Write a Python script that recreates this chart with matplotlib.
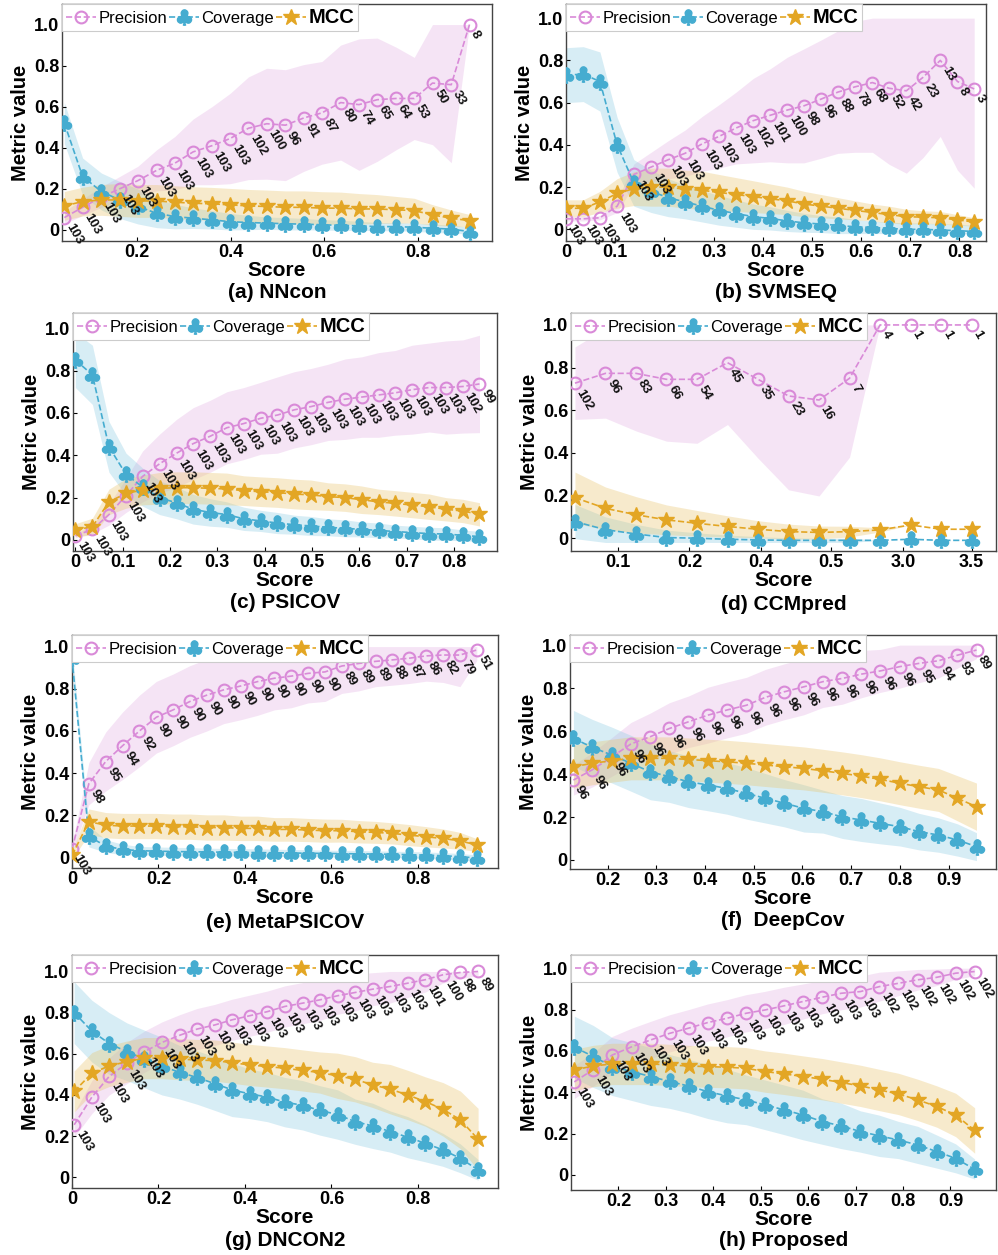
import matplotlib
matplotlib.use('Agg')
import matplotlib.pyplot as plt
import numpy as np

plt.rcParams['font.family'] = ['Liberation Sans', 'DejaVu Sans']
plt.rcParams['mathtext.fontset'] = 'dejavusans'
plt.rcParams['font.weight'] = 'bold'

# ---------------- data ----------------
# (a) NNcon
nncon_x = [0.045, 0.084, 0.124, 0.163, 0.202, 0.242, 0.281, 0.320, 0.360, 0.399, 0.438, 0.477,
           0.517, 0.556, 0.595, 0.635, 0.674, 0.713, 0.753, 0.792, 0.831, 0.871, 0.910]
nncon_prec = [0.06, 0.11, 0.16, 0.20, 0.24, 0.29, 0.325, 0.38, 0.41, 0.445, 0.495, 0.517, 0.51,
              0.545, 0.57, 0.62, 0.61, 0.634, 0.64, 0.64, 0.715, 0.707, 1.0]
nncon_prec_sd = [0.03, 0.04, 0.05, 0.06, 0.07, 0.10, 0.13, 0.16, 0.19, 0.22, 0.25, 0.27, 0.27,
                 0.26, 0.25, 0.28, 0.32, 0.30, 0.25, 0.20, 0.30, 0.38, 0.0]
nncon_cov = [0.52, 0.26, 0.187, 0.146, 0.114, 0.081, 0.065, 0.057, 0.049, 0.04, 0.036, 0.033, 0.03,
             0.028, 0.025, 0.022, 0.02, 0.016, 0.016, 0.013, 0.008, 0.004, -0.008]
nncon_cov_sd = [0.1, 0.09, 0.09, 0.09, 0.085, 0.07, 0.06, 0.05, 0.045, 0.04, 0.035, 0.03, 0.03,
                0.028, 0.025, 0.025, 0.022, 0.02, 0.02, 0.02, 0.02, 0.02, 0.02]
nncon_mcc = [0.117, 0.138, 0.146, 0.146, 0.141, 0.141, 0.135, 0.13, 0.127, 0.122, 0.117, 0.114,
             0.11, 0.11, 0.106, 0.106, 0.102, 0.102, 0.098, 0.094, 0.073, 0.057, 0.045]
nncon_mcc_sd = [0.07, 0.07, 0.075, 0.08, 0.08, 0.08, 0.08, 0.08, 0.08, 0.08, 0.08, 0.08, 0.08,
                0.08, 0.08, 0.078, 0.075, 0.07, 0.065, 0.06, 0.05, 0.04, 0.03]
nncon_n = [103] * 10 + [102, 100, 96, 91, 87, 80, 74, 65, 64, 53, 50, 33, 8]

# (b) SVMSEQ
svmseq_x = [0, 0.035, 0.069, 0.104, 0.138, 0.173, 0.208, 0.242, 0.277, 0.311, 0.346, 0.381, 0.415,
            0.450, 0.484, 0.519, 0.553, 0.588, 0.623, 0.657, 0.692, 0.726, 0.761, 0.796, 0.830]
svmseq_prec = [0.05, 0.05, 0.055, 0.11, 0.26, 0.295, 0.33, 0.36, 0.405, 0.44, 0.48, 0.515, 0.54,
               0.565, 0.585, 0.617, 0.65, 0.675, 0.695, 0.668, 0.656, 0.72, 0.80, 0.70, 0.665]
svmseq_prec_sd = [0.01, 0.01, 0.01, 0.03, 0.05, 0.07, 0.09, 0.11, 0.13, 0.15, 0.17, 0.2, 0.22,
                  0.25, 0.27, 0.28, 0.29, 0.31, 0.33, 0.36, 0.39, 0.38, 0.36, 0.42, 0.47]
svmseq_cov = [0.73, 0.735, 0.70, 0.40, 0.22, 0.18, 0.15, 0.13, 0.11, 0.09, 0.075, 0.06, 0.052,
              0.04, 0.031, 0.025, 0.019, 0.012, 0.009, 0.005, 0.0, 0.0, -0.003, -0.006, -0.01]
svmseq_cov_sd = [0.13, 0.13, 0.14, 0.13, 0.11, 0.1, 0.09, 0.08, 0.075, 0.07, 0.065, 0.06, 0.055,
                 0.05, 0.045, 0.04, 0.04, 0.035, 0.03, 0.03, 0.03, 0.03, 0.03, 0.03, 0.03]
svmseq_mcc = [0.10, 0.10, 0.13, 0.17, 0.193, 0.2, 0.2, 0.19, 0.185, 0.175, 0.165, 0.155, 0.145,
              0.135, 0.12, 0.11, 0.1, 0.09, 0.08, 0.07, 0.06, 0.058, 0.055, 0.045, 0.035]
svmseq_mcc_sd = [0.04, 0.04, 0.05, 0.07, 0.08, 0.09, 0.09, 0.09, 0.09, 0.085, 0.08, 0.075, 0.07,
                 0.065, 0.06, 0.055, 0.05, 0.045, 0.04, 0.04, 0.035, 0.03, 0.03, 0.025, 0.02]
svmseq_n = [103] * 11 + [102, 101, 100, 98, 96, 88, 78, 68, 52, 42, 23, 13, 8, 3]

# (c) PSICOV
psicov_x = [0, 0.036, 0.071, 0.107, 0.142, 0.178, 0.214, 0.249, 0.285, 0.320, 0.356, 0.392, 0.427,
            0.463, 0.498, 0.534, 0.570, 0.605, 0.641, 0.676, 0.712, 0.748, 0.783, 0.819, 0.854]
psicov_prec = [0.02, 0.05, 0.12, 0.21, 0.30, 0.36, 0.41, 0.455, 0.49, 0.53, 0.55, 0.575, 0.59,
               0.615, 0.63, 0.65, 0.665, 0.675, 0.685, 0.695, 0.71, 0.72, 0.72, 0.725, 0.737]
psicov_prec_sd = [0.01, 0.02, 0.05, 0.08, 0.12, 0.14, 0.16, 0.17, 0.17, 0.17, 0.17, 0.17, 0.18,
                  0.18, 0.18, 0.18, 0.19, 0.19, 0.2, 0.2, 0.21, 0.21, 0.22, 0.22, 0.23]
psicov_cov = [0.85, 0.78, 0.44, 0.31, 0.25, 0.20, 0.175, 0.145, 0.13, 0.12, 0.10, 0.09, 0.08,
              0.072, 0.066, 0.06, 0.055, 0.05, 0.045, 0.04, 0.035, 0.03, 0.028, 0.022, 0.016]
psicov_cov_sd = [0.13, 0.14, 0.12, 0.1, 0.09, 0.08, 0.075, 0.07, 0.065, 0.06, 0.055, 0.05, 0.05,
                 0.045, 0.045, 0.04, 0.04, 0.035, 0.035, 0.03, 0.03, 0.03, 0.03, 0.025, 0.025]
psicov_mcc = [0.047, 0.063, 0.18, 0.22, 0.236, 0.244, 0.247, 0.247, 0.244, 0.241, 0.233, 0.228,
              0.224, 0.217, 0.213, 0.205, 0.2, 0.19, 0.18, 0.173, 0.165, 0.157, 0.145, 0.137, 0.121]
psicov_mcc_sd = [0.03, 0.04, 0.06, 0.07, 0.07, 0.075, 0.075, 0.075, 0.075, 0.075, 0.07, 0.07, 0.07,
                 0.07, 0.07, 0.065, 0.065, 0.065, 0.06, 0.06, 0.06, 0.06, 0.055, 0.055, 0.055]
psicov_n = [103] * 23 + [102, 99]

# (d) CCMpred (score bins drawn at equal spacing)
ccm_x = [0, 1, 2, 3, 4, 5, 6, 7, 8, 9, 10, 11, 12, 13]
ccm_ticks = [1.4, 3.75, 6.1, 8.4, 10.75, 13.0]
ccm_ticklabels = ['0.1', '0.2', '0.4', '0.5', '3.0', '3.5']
ccm_prec = [0.727, 0.773, 0.773, 0.745, 0.745, 0.823, 0.745, 0.667, 0.648, 0.75, 1.0, 1.0, 1.0, 1.0]
ccm_prec_sd = [0.17, 0.21, 0.27, 0.29, 0.30, 0.29, 0.37, 0.44, 0.45, 0.37, 0, 0, 0, 0]
ccm_cov = [0.078, 0.04, 0.02, 0.003, 0.0, -0.005, -0.008, -0.01, -0.01, -0.01, -0.01, -0.005,
           -0.01, -0.01]
ccm_cov_sd = [0.08, 0.06, 0.045, 0.035, 0.025, 0.02, 0.015, 0.012, 0.01, 0.01, 0, 0, 0, 0]
ccm_mcc = [0.19, 0.14, 0.11, 0.086, 0.07, 0.055, 0.042, 0.031, 0.027, 0.031, 0.039, 0.062, 0.042,
           0.042]
ccm_mcc_sd = [0.12, 0.1, 0.085, 0.07, 0.06, 0.05, 0.04, 0.035, 0.03, 0.025, 0.01, 0, 0, 0]
ccm_n = [102, 96, 83, 66, 54, 45, 35, 23, 16, 7, 4, 1, 1, 1]

# (e) MetaPSICOV
meta_x = [0, 0.039, 0.078, 0.117, 0.156, 0.195, 0.234, 0.273, 0.312, 0.351, 0.390, 0.429, 0.468,
          0.507, 0.546, 0.585, 0.624, 0.663, 0.702, 0.741, 0.780, 0.819, 0.858, 0.897, 0.936]
meta_prec = [0.04, 0.35, 0.455, 0.53, 0.6, 0.665, 0.7, 0.74, 0.77, 0.795, 0.813, 0.834, 0.85,
             0.86, 0.873, 0.88, 0.908, 0.92, 0.93, 0.937, 0.945, 0.956, 0.96, 0.96, 0.984]
meta_prec_sd = [0.02, 0.1, 0.14, 0.16, 0.17, 0.17, 0.17, 0.17, 0.17, 0.16, 0.16, 0.16, 0.15, 0.15,
                0.14, 0.14, 0.13, 0.13, 0.12, 0.12, 0.12, 0.12, 0.13, 0.15, 0.05]
meta_cov = [0.945, 0.10, 0.054, 0.038, 0.032, 0.03, 0.028, 0.027, 0.026, 0.025, 0.024, 0.023,
            0.022, 0.021, 0.02, 0.019, 0.018, 0.017, 0.016, 0.015, 0.013, 0.011, 0.008, 0.004,
            -0.003]
meta_cov_sd = [0.05, 0.05, 0.03, 0.025, 0.02, 0.02, 0.02, 0.02, 0.018, 0.018, 0.018, 0.018, 0.017,
               0.017, 0.017, 0.016, 0.016, 0.016, 0.015, 0.015, 0.015, 0.015, 0.015, 0.015, 0.015]
meta_mcc = [0.01, 0.17, 0.153, 0.149, 0.149, 0.149, 0.146, 0.146, 0.142, 0.142, 0.138, 0.138,
            0.133, 0.133, 0.13, 0.127, 0.127, 0.122, 0.119, 0.114, 0.106, 0.098, 0.09, 0.079, 0.059]
meta_mcc_sd = [0.02, 0.06, 0.06, 0.06, 0.06, 0.06, 0.06, 0.06, 0.06, 0.06, 0.058, 0.058, 0.056,
               0.056, 0.055, 0.055, 0.054, 0.053, 0.052, 0.05, 0.05, 0.048, 0.045, 0.04, 0.03]
meta_n = [103, 98, 95, 94, 92] + [90] * 11 + [89, 89, 89, 88, 87, 86, 82, 79, 51]

# (f) DeepCov
deepcov_x = [0.130, 0.169, 0.209, 0.248, 0.288, 0.327, 0.366, 0.406, 0.445, 0.485, 0.524, 0.563,
             0.603, 0.642, 0.682, 0.721, 0.760, 0.800, 0.839, 0.879, 0.918, 0.957]
deepcov_prec = [0.372, 0.42, 0.48, 0.54, 0.574, 0.612, 0.643, 0.674, 0.698, 0.72, 0.757, 0.783,
                0.806, 0.83, 0.845, 0.865, 0.88, 0.9, 0.915, 0.927, 0.953, 0.977]
deepcov_prec_sd = [0.07, 0.08, 0.09, 0.1, 0.11, 0.12, 0.12, 0.13, 0.13, 0.13, 0.13, 0.13, 0.13,
                   0.12, 0.12, 0.11, 0.1, 0.1, 0.09, 0.08, 0.06, 0.04]
deepcov_cov = [0.566, 0.524, 0.488, 0.45, 0.41, 0.388, 0.364, 0.349, 0.333, 0.31, 0.287, 0.264,
               0.24, 0.225, 0.2, 0.186, 0.17, 0.155, 0.132, 0.116, 0.093, 0.062]
deepcov_cov_sd = [0.13, 0.13, 0.13, 0.13, 0.13, 0.12, 0.12, 0.12, 0.12, 0.12, 0.115, 0.11, 0.11,
                  0.1, 0.1, 0.1, 0.095, 0.09, 0.085, 0.08, 0.075, 0.065]
deepcov_mcc = [0.434, 0.45, 0.462, 0.473, 0.473, 0.473, 0.468, 0.462, 0.457, 0.45, 0.442, 0.434,
               0.426, 0.415, 0.403, 0.39, 0.375, 0.357, 0.341, 0.326, 0.287, 0.248]
deepcov_mcc_sd = [0.1] * 20 + [0.105, 0.11]
deepcov_n = [96] * 18 + [95, 94, 93, 89]

# (g) DNCON2
dncon_x = [0.005, 0.046, 0.086, 0.127, 0.167, 0.208, 0.249, 0.289, 0.330, 0.370, 0.411, 0.452,
           0.492, 0.533, 0.573, 0.614, 0.655, 0.695, 0.736, 0.776, 0.817, 0.858, 0.898, 0.939]
dncon_prec = [0.255, 0.39, 0.49, 0.555, 0.61, 0.655, 0.69, 0.72, 0.74, 0.765, 0.785, 0.805, 0.83,
              0.846, 0.862, 0.882, 0.898, 0.914, 0.927, 0.943, 0.96, 0.984, 0.995, 1.0]
dncon_prec_sd = [0.06, 0.08, 0.09, 0.1, 0.1, 0.1, 0.1, 0.1, 0.1, 0.1, 0.1, 0.1, 0.1, 0.1, 0.1,
                 0.09, 0.09, 0.08, 0.08, 0.07, 0.06, 0.04, 0.03, 0.02]
dncon_cov = [0.80, 0.71, 0.65, 0.61, 0.575, 0.54, 0.51, 0.485, 0.455, 0.425, 0.405, 0.39, 0.365,
             0.35, 0.325, 0.305, 0.27, 0.25, 0.222, 0.195, 0.165, 0.133, 0.092, 0.036]
dncon_cov_sd = [0.15, 0.15, 0.15, 0.14, 0.14, 0.14, 0.13, 0.13, 0.13, 0.13, 0.12, 0.12, 0.12,
                0.12, 0.12, 0.12, 0.11, 0.11, 0.1, 0.1, 0.09, 0.08, 0.07, 0.05]
dncon_mcc = [0.417, 0.506, 0.541, 0.562, 0.579, 0.579, 0.574, 0.57, 0.567, 0.557, 0.546, 0.538,
             0.53, 0.519, 0.509, 0.493, 0.476, 0.449, 0.428, 0.4, 0.368, 0.33, 0.279, 0.185]
dncon_mcc_sd = [0.1] * 15 + [0.11, 0.11, 0.11, 0.12, 0.12, 0.12, 0.13, 0.14, 0.15]
dncon_n = [103] * 20 + [101, 100, 98, 89]

# (h) Proposed
prop_x = [0.107, 0.147, 0.187, 0.228, 0.268, 0.308, 0.348, 0.388, 0.429, 0.469, 0.509, 0.549,
          0.589, 0.630, 0.670, 0.710, 0.750, 0.790, 0.831, 0.871, 0.911, 0.951]
prop_prec = [0.45, 0.51, 0.58, 0.62, 0.653, 0.685, 0.71, 0.737, 0.758, 0.782, 0.798, 0.818, 0.839,
             0.86, 0.879, 0.887, 0.911, 0.927, 0.944, 0.956, 0.976, 0.984]
prop_prec_sd = [0.08, 0.08, 0.09, 0.09, 0.09, 0.09, 0.09, 0.09, 0.09, 0.09, 0.09, 0.09, 0.085,
                0.08, 0.08, 0.075, 0.07, 0.06, 0.05, 0.04, 0.03, 0.02]
prop_cov = [0.618, 0.573, 0.524, 0.5, 0.476, 0.452, 0.43, 0.403, 0.382, 0.363, 0.339, 0.315,
            0.29, 0.258, 0.237, 0.21, 0.189, 0.169, 0.145, 0.113, 0.08, 0.027]
prop_cov_sd = [0.15, 0.15, 0.14, 0.14, 0.14, 0.13, 0.13, 0.13, 0.13, 0.12, 0.12, 0.12, 0.12, 0.11,
               0.11, 0.1, 0.1, 0.09, 0.09, 0.08, 0.07, 0.05]
prop_mcc = [0.508, 0.527, 0.537, 0.537, 0.537, 0.532, 0.527, 0.524, 0.521, 0.516, 0.5, 0.489,
            0.476, 0.463, 0.447, 0.431, 0.411, 0.392, 0.363, 0.331, 0.29, 0.215]
prop_mcc_sd = [0.1] * 20 + [0.105, 0.11]
prop_n = [103] * 16 + [102] * 6

yticks = [0, 0.2, 0.4, 0.6, 0.8, 1.0]
ytick_labels = ['0', '0.2', '0.4', '0.6', '0.8', '1.0']

# ---------------- layout (pixel boxes: left, top, right, bottom) ----------------
W, H = 998, 1255
t01 = [0.1 * k for k in range(9)]
l01 = ['0', '0.1', '0.2', '0.3', '0.4', '0.5', '0.6', '0.7', '0.8']
t02 = [0.2, 0.4, 0.6, 0.8]
l02 = ['0.2', '0.4', '0.6', '0.8']
t29 = [0.2, 0.3, 0.4, 0.5, 0.6, 0.7, 0.8, 0.9]
l29 = ['0.2', '0.3', '0.4', '0.5', '0.6', '0.7', '0.8', '0.9']

panels = [
    dict(cap='(a) NNcon', x=nncon_x, p=nncon_prec, ps=nncon_prec_sd, c=nncon_cov, cs=nncon_cov_sd,
         m=nncon_mcc, ms=nncon_mcc_sd, n=nncon_n, box=(62, 4, 492, 241), ylim=(-0.054, 1.10),
         xlim=(0.04, 0.958), xt=t02, xl=l02, capoff=51),
    dict(cap='(b) SVMSEQ', x=svmseq_x, p=svmseq_prec, ps=svmseq_prec_sd, c=svmseq_cov,
         cs=svmseq_cov_sd, m=svmseq_mcc, ms=svmseq_mcc_sd, n=svmseq_n, box=(566, 4, 986, 241),
         ylim=(-0.055, 1.067), xlim=(0.0, 0.854), xt=t01, xl=l01, capoff=51),
    dict(cap='(c) PSICOV', x=psicov_x, p=psicov_prec, ps=psicov_prec_sd, c=psicov_cov,
         cs=psicov_cov_sd, m=psicov_mcc, ms=psicov_mcc_sd, n=psicov_n, box=(73, 313, 497, 551),
         ylim=(-0.052, 1.072), xlim=(-0.005, 0.891), xt=t01, xl=l01, capoff=51),
    dict(cap='(d) CCMpred', x=ccm_x, p=ccm_prec, ps=ccm_prec_sd, c=ccm_cov, cs=ccm_cov_sd,
         m=ccm_mcc, ms=ccm_mcc_sd, n=ccm_n, box=(571, 313, 996, 551), ylim=(-0.06, 1.056),
         xlim=(-0.13, 13.8), xt=ccm_ticks, xl=ccm_ticklabels, capoff=53),
    dict(cap='(e) MetaPSICOV', x=meta_x, p=meta_prec, ps=meta_prec_sd, c=meta_cov,
         cs=meta_cov_sd, m=meta_mcc, ms=meta_mcc_sd, n=meta_n, box=(72, 635, 498, 868),
         ylim=(-0.05, 1.055), xlim=(0.0, 0.985), xt=[0] + t02, xl=['0'] + l02, capoff=54),
    dict(cap='(f)  DeepCov', x=deepcov_x, p=deepcov_prec, ps=deepcov_prec_sd, c=deepcov_cov,
         cs=deepcov_cov_sd, m=deepcov_mcc, ms=deepcov_mcc_sd, n=deepcov_n,
         box=(570, 635, 996, 869), ylim=(-0.042, 1.047), xlim=(0.123, 0.997), xt=t29, xl=l29,
         capoff=51),
    dict(cap='(g) DNCON2', x=dncon_x, p=dncon_prec, ps=dncon_prec_sd, c=dncon_cov,
         cs=dncon_cov_sd, m=dncon_mcc, ms=dncon_mcc_sd, n=dncon_n, box=(72, 955, 498, 1188),
         ylim=(-0.052, 1.08), xlim=(0.0, 0.985), xt=[0] + t02, xl=['0'] + l02, capoff=53),
    dict(cap='(h) Proposed', x=prop_x, p=prop_prec, ps=prop_prec_sd, c=prop_cov, cs=prop_cov_sd,
         m=prop_mcc, ms=prop_mcc_sd, n=prop_n, box=(571, 955, 996, 1190), ylim=(-0.073, 1.064),
         xlim=(0.1, 0.996), xt=t29, xl=l29, capoff=50),
]

PREC_C, COV_C, MCC_C = '#d98ad8', '#45acd0', '#e3a624'
PREC_B, COV_B, MCC_B = '#e4b0e4', '#8ccbe3', '#e9c46a'

fig = plt.figure(figsize=(W / 100, H / 100), dpi=100)

for p in panels:
    l, t, r, b = p['box']
    ax = fig.add_axes([l / W, 1 - b / H, (r - l) / W, (b - t) / H])
    x = np.array(p['x'], dtype=float)

    for mean, sd, col in [(p['p'], p['ps'], PREC_B), (p['c'], p['cs'], COV_B),
                          (p['m'], p['ms'], MCC_B)]:
        mean = np.array(mean)
        sd = np.array(sd)
        ax.fill_between(x, np.clip(mean - sd, -0.02, 1.0), np.clip(mean + sd, -0.02, 1.0),
                        color=col, alpha=0.34, lw=0, zorder=1)

    h1, = ax.plot(x, p['p'], ls='--', lw=1.2, color=PREC_C, marker='o', ms=8.5, mfc='none',
                  mec=PREC_C, mew=1.5, zorder=3)
    h2, = ax.plot(x, p['c'], ls='--', lw=1.2, color=COV_C, marker=r'$\clubsuit$', ms=11,
                  mec=COV_C, mfc=COV_C, zorder=3)
    h3, = ax.plot(x, p['m'], ls='--', lw=1.2, color=MCC_C, marker='*', ms=12, mec=MCC_C,
                  mfc=MCC_C, zorder=3)

    for xi, yi, cnt in zip(x, p['p'], p['n']):
        ax.annotate(str(cnt), (xi, yi), xytext=(3, -5), textcoords='offset points',
                    rotation=-60, rotation_mode='anchor', ha='left', va='center',
                    fontsize=9.5, fontweight='bold', color='#111111', zorder=5)

    ax.set_xlim(*p['xlim'])
    ax.set_ylim(*p['ylim'])
    ax.set_xticks(p['xt'])
    ax.set_xticklabels(p['xl'])
    ax.set_yticks(yticks)
    ax.set_yticklabels(ytick_labels)
    ax.tick_params(direction='in', length=3, width=0.8, labelsize=13, pad=2)
    for s in ax.spines.values():
        s.set_color('#444444')
        s.set_linewidth(1.0)

    ax.set_xlabel('Score', fontsize=15, fontweight='bold', labelpad=0)
    ax.set_ylabel('Metric value', fontsize=14.5, fontweight='bold', labelpad=3)
    ax.annotate(p['cap'], xy=(0.5, 0), xycoords='axes fraction', xytext=(0, -p['capoff']),
                textcoords='offset pixels', ha='center', va='center', fontsize=15,
                fontweight='bold')

    leg = ax.legend([h1, h2, h3], ['Precision', 'Coverage', 'MCC'], loc='upper left',
                    bbox_to_anchor=(0, 1), borderaxespad=0, ncol=3, frameon=True,
                    fancybox=False, edgecolor='#cccccc', framealpha=1, handlelength=1.8,
                    handletextpad=0.15, columnspacing=0.1, borderpad=0.25, fontsize=12)
    leg.get_frame().set_linewidth(0.8)
    leg.set_zorder(6)
    txts = leg.get_texts()
    txts[0].set_fontweight('normal')
    txts[1].set_fontweight('normal')
    txts[2].set_fontsize(14.5)
    txts[2].set_fontweight('bold')

fig.savefig('out.png', dpi=100)
